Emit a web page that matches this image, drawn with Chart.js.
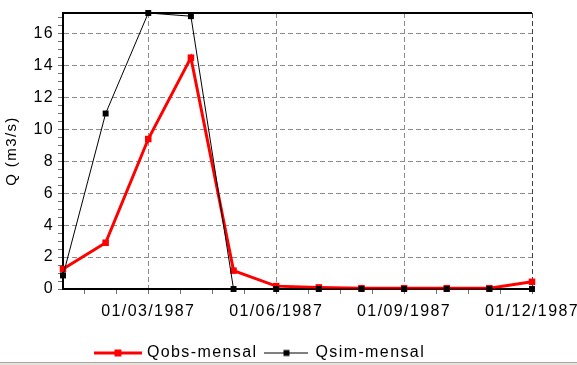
<!DOCTYPE html>
<html lang="pt">
<head>
<meta charset="UTF-8">
<title>Qobs x Qsim mensal 1987</title>
<style>
  body { margin: 0; background: #fff; }
  #wrap { width: 577px; height: 365px; position: relative; }
  #grafico { display: block; }
  #base { position: absolute; left: 0; bottom: 0; width: 577px; height: 2px; border-top: 1px solid #a8a8a8; background: #e6e2da; }
</style>
<script src="https://cdn.jsdelivr.net/npm/chart.js"></script>
</head>
<body>
<div id="wrap">
  <canvas id="grafico" width="577" height="365"></canvas>
  <div id="base"></div>
</div>
<script>
// meses de 1987 (eixo x = índice do mês)
const datas = ['01/01/1987', '01/02/1987', '01/03/1987', '01/04/1987', '01/05/1987', '01/06/1987',
               '01/07/1987', '01/08/1987', '01/09/1987', '01/10/1987', '01/11/1987', '01/12/1987'];
const qobs = [1.25, 2.9, 9.4, 14.5, 1.15, 0.18, 0.1, 0.05, 0.05, 0.05, 0.05, 0.45];
const qsim = [0.85, 11.0, 17.3, 17.1, 0, 0, 0, 0, 0, 0, 0, 0];
const marcasX = [2, 5, 8, 11];          // meses com rótulo
const rotulosY = [0, 2, 4, 6, 8, 10, 12, 14, 16];
const yMax = 17.3;

// traço + quadrado usado na legenda
function marcaLegenda(cor, espessura, lado, largura) {
  const c = document.createElement('canvas');
  c.width = largura; c.height = 9;
  const g = c.getContext('2d');
  g.strokeStyle = cor;
  g.lineWidth = espessura;
  g.beginPath(); g.moveTo(0, 4.5); g.lineTo(largura, 4.5); g.stroke();
  g.fillStyle = cor;
  g.fillRect(largura / 2 - lado / 2, 4.5 - lado / 2, lado, lado);
  return c;
}

// espaçamento entre letras, como no gráfico original do programa
const LS = '1.4px';
const espacamento = {
  id: 'espacamento',
  beforeUpdate(chart) { chart.ctx.letterSpacing = LS; },
  beforeLayout(chart) { chart.ctx.letterSpacing = LS; },
  beforeDraw(chart) { chart.ctx.letterSpacing = LS; }
};

// borda superior da área do gráfico
const moldura = {
  id: 'moldura',
  beforeDatasetsDraw(chart) {
    const { ctx, chartArea: a } = chart;
    ctx.save();
    ctx.strokeStyle = '#000';
    ctx.lineWidth = 2;
    ctx.beginPath();
    ctx.moveTo(a.left, a.top);
    ctx.lineTo(a.right, a.top);
    ctx.stroke();
    ctx.restore();
  }
};

const pontos = arr => arr.map((v, i) => ({ x: i, y: v }));

Chart.defaults.font.family = "'Liberation Sans', Arial, sans-serif";
Chart.defaults.font.size = 16;
Chart.defaults.color = '#000';

new Chart(document.getElementById('grafico'), {
  type: 'line',
  data: {
    datasets: [{
      label: 'Qobs-mensal',
      data: pontos(qobs),
      borderColor: '#ff0000',
      backgroundColor: '#ff0000',
      borderWidth: 3,
      pointStyle: 'rect',
      pointRadius: 4.6,
      pointBorderWidth: 0,
      tension: 0,
      clip: false,
      order: 1
    }, {
      label: 'Qsim-mensal',
      data: pontos(qsim),
      borderColor: '#000',
      backgroundColor: '#000',
      borderWidth: 1,
      pointStyle: 'rect',
      pointRadius: 4.2,
      pointBorderWidth: 0,
      tension: 0,
      clip: false,
      order: 0
    }]
  },
  options: {
    responsive: false,
    animation: false,
    events: [],
    layout: { padding: { left: -10, right: 45, top: 13, bottom: -6 } },
    scales: {
      x: {
        type: 'linear',
        min: 0,
        max: 11,
        afterBuildTicks(scale) {
          const t = [];
          for (let v = 0.5; v <= 11.001; v += 0.75) t.push({ value: Math.round(v * 100) / 100 });
          scale.ticks = t;
        },
        afterFit(scale) {
          scale.paddingLeft = 0;
          scale.paddingRight = 0;
          scale.height = 48;
        },
        ticks: {
          autoSkip: false,
          maxRotation: 0,
          padding: 8,
          font: { size: 16 },
          callback: v => marcasX.includes(v) ? datas[v] : ''
        },
        grid: {
          color: c => c.tick && marcasX.includes(c.tick.value) ? (c.tick.value === 11 ? '#404040' : '#8c8c8c') : 'rgba(0,0,0,0)',
          lineWidth: 1,
          tickLength: 5,
          tickColor: '#707070',
          tickBorderDash: []
        },
        border: { color: '#000', width: 2, dash: [5, 3] }
      },
      y: {
        min: 0,
        max: yMax,
        afterBuildTicks(scale) {
          const t = [];
          for (let v = 0; v <= 17.001; v += 0.5) t.push({ value: v });
          scale.ticks = t;
        },
        afterFit(scale) {
          scale.width = 73;
          scale.paddingTop = 0;
          scale.paddingBottom = 0;
        },
        ticks: {
          autoSkip: false,
          padding: 4,
          font: { size: 16 },
          callback: v => rotulosY.includes(v) ? String(v) : ''
        },
        grid: {
          color: c => c.tick && rotulosY.includes(c.tick.value) && c.tick.value !== 0 ? '#8c8c8c' : 'rgba(0,0,0,0)',
          lineWidth: 1,
          tickLength: 5,
          tickColor: '#707070',
          tickBorderDash: []
        },
        border: { color: '#000', width: 2, dash: [5, 3] },
        title: {
          display: true,
          text: 'Q (m3/s)',
          font: { size: 15 },
          padding: { top: 13, bottom: 0 }
        }
      }
    },
    plugins: {
      tooltip: { enabled: false },
      legend: {
        position: 'bottom',
        labels: {
          usePointStyle: true,
          pointStyleWidth: 42,
          padding: 8,
          font: { size: 16 },
          sort: (a, b) => a.datasetIndex - b.datasetIndex,
          generateLabels(chart) {
            const base = Chart.defaults.plugins.legend.labels.generateLabels(chart);
            return base.map(it => {
              const ds = chart.data.datasets[it.datasetIndex];
              it.pointStyle = ds.borderWidth > 1 ? marcaLegenda('#ff0000', 3, 7, 48) : marcaLegenda('#000', 1, 6, 44);
              return it;
            });
          }
        }
      }
    }
  },
  plugins: [espacamento, moldura]
});
</script>
</body>
</html>
